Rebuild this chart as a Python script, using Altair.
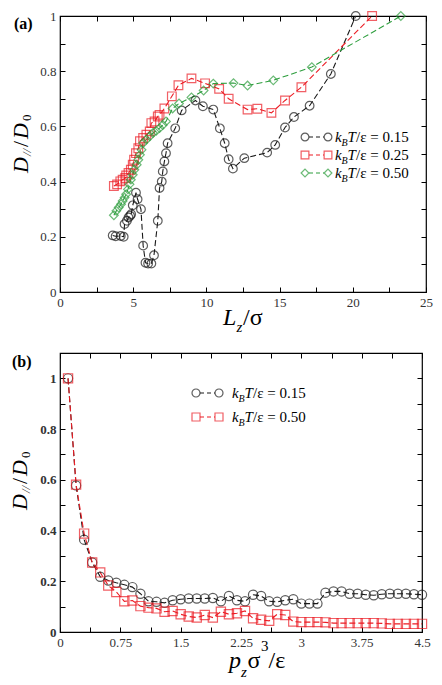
import altair as alt
import pandas as pd

SERIF = "Liberation Serif"

# ---------------- Panel (a) data: D///D0 vs Lz/sigma ----------------
a_names = ["0.15", "0.25", "0.50"]
a_colors = ["#1a1a1a", "#ec1c24", "#2e9e3e"]
a_shapes = ["circle", "square", "diamond"]

a_black_x = [3.6, 3.8, 4.15, 4.35, 4.41, 4.57, 4.68, 4.79, 4.86, 4.97, 5.19, 5.3, 5.53,
             5.68, 5.84, 6.02, 6.24, 6.42, 6.68, 6.8, 6.95, 7.02, 7.13, 7.24, 7.35, 7.87,
             8.31, 9.25, 9.76, 10.47, 10.92, 11.25, 11.52, 11.81, 12.59, 14.15, 14.7,
             15.37, 15.98, 17.05, 18.5, 20.2]
a_black_y = [0.205, 0.202, 0.203, 0.200, 0.246, 0.258, 0.27, 0.276, 0.282, 0.314, 0.36,
             0.336, 0.30, 0.168, 0.106, 0.103, 0.103, 0.133, 0.258, 0.377, 0.40, 0.437,
             0.473, 0.503, 0.539, 0.593, 0.658, 0.694, 0.673, 0.661, 0.593, 0.539, 0.481,
             0.447, 0.485, 0.505, 0.533, 0.596, 0.634, 0.675, 0.79, 1.0]

a_red_x = [3.68, 3.9, 4.12, 4.28, 4.46, 4.52, 4.68, 4.84, 4.97, 5.06, 5.19, 5.35, 5.46,
           5.68, 5.9, 6.13, 6.24, 6.46, 6.68, 6.8, 7.13, 7.64, 8.09, 8.98, 9.91, 10.87,
           11.52, 12.81, 13.48, 14.44, 15.37, 16.49, 21.32]
a_red_y = [0.384, 0.39, 0.401, 0.407, 0.413, 0.422, 0.431, 0.443, 0.461, 0.479, 0.503,
           0.521, 0.546, 0.558, 0.57, 0.582, 0.612, 0.618, 0.636, 0.642, 0.665, 0.709,
           0.749, 0.774, 0.756, 0.736, 0.70, 0.661, 0.664, 0.649, 0.694, 0.742, 1.0]

a_green_x = [3.68, 3.85, 4.01, 4.17, 4.28, 4.41, 4.52, 4.64, 4.75, 4.84, 4.97, 5.08, 5.24,
             5.35, 5.46, 5.57, 5.68, 5.9, 6.13, 6.35, 6.57, 6.8, 7.02, 7.24, 7.69, 8.13,
             8.98, 9.81, 10.47, 11.85, 12.81, 14.57, 17.2, 23.28]
a_green_y = [0.278, 0.294, 0.306, 0.318, 0.33, 0.342, 0.354, 0.372, 0.39, 0.407, 0.425,
             0.443, 0.461, 0.479, 0.497, 0.515, 0.54, 0.552, 0.564, 0.576, 0.584, 0.594,
             0.605, 0.618, 0.665, 0.683, 0.705, 0.73, 0.755, 0.757, 0.748, 0.767, 0.815, 1.0]

a_xticks = [0, 2.5, 5, 7.5, 10, 12.5, 15, 17.5, 20, 22.5, 25]
a_yticks = [0, 0.1, 0.2, 0.3, 0.4, 0.5, 0.6, 0.7, 0.8, 0.9, 1.0]

# ---------------- Panel (b) data: D///D0 vs pz sigma^3/eps ----------------
b_names = ["0.15", "0.50"]
b_colors = ["#1a1a1a", "#ec1c24"]
b_shapes = ["circle", "square"]

b_x = [0.1, 0.2, 0.3, 0.4, 0.5, 0.6, 0.7, 0.8, 0.9, 1.0, 1.1, 1.2, 1.3, 1.4, 1.5, 1.6,
       1.7, 1.8, 1.9, 2.0, 2.1, 2.2, 2.3, 2.4, 2.5, 2.6, 2.7, 2.8, 2.9, 3.0, 3.1, 3.2,
       3.3, 3.4, 3.5, 3.6, 3.7, 3.8, 3.9, 4.0, 4.1, 4.2, 4.3, 4.4, 4.5]
b_black_y = [1.0, 0.578, 0.364, 0.274, 0.218, 0.203, 0.194, 0.186, 0.177, 0.151,
             0.121, 0.119, 0.115, 0.125, 0.129, 0.132, 0.132, 0.132, 0.134, 0.121,
             0.142, 0.125, 0.121, 0.147, 0.142, 0.121, 0.119, 0.125, 0.129, 0.112,
             0.112, 0.112, 0.155, 0.160, 0.160, 0.151, 0.151, 0.147, 0.145, 0.149,
             0.151, 0.151, 0.151, 0.149, 0.147]
b_red_y = [1.0, 0.581, 0.388, 0.274, 0.235, 0.183, 0.158, 0.121, 0.124, 0.102,
           0.096, 0.093, 0.080, 0.083, 0.070, 0.061, 0.057, 0.067, 0.057, 0.080,
           0.070, 0.074, 0.083, 0.054, 0.048, 0.044, 0.070, 0.067, 0.041, 0.039,
           0.039, 0.039, 0.038, 0.035, 0.035, 0.035, 0.035, 0.035, 0.035, 0.034,
           0.032, 0.032, 0.032, 0.032, 0.032]

b_xticks = [0, 0.375, 0.75, 1.125, 1.5, 1.875, 2.25, 2.625, 3, 3.375, 3.75, 4.125, 4.5]
b_yticks = [0, 0.1, 0.2, 0.3, 0.4, 0.5, 0.6, 0.7, 0.8, 0.9, 1.0, 1.1]

# ---------------- layout constants ----------------
WA, HA = 366, 276
WB, HB = 362, 279
TICK = 5

one = pd.DataFrame({"k": [0]})


def frame(xs, ys, name):
    return pd.DataFrame({"x": xs, "y": ys, "s": name})


def txt(s, x, y, size, italic=False, bold=False, angle=0, color="black"):
    return alt.Chart(one).mark_text(
        text=s, font=SERIF, fontSize=size, align="left", baseline="alphabetic",
        fontStyle="italic" if italic else "normal",
        fontWeight="bold" if bold else "normal", angle=angle, color=color,
    ).encode(x=alt.value(x), y=alt.value(y))


def main_axis(values, expr, orient, bold=False):
    return alt.Axis(values=values, labelExpr=expr, orient=orient, tickSize=TICK,
                    offset=-TICK, domain=False, grid=False, title=None, minExtent=0,
                    tickColor="black", tickWidth=1, labelFont=SERIF, labelFontSize=13,
                    labelColor="#333", labelPadding=4, labelFlush=False,
                    labelOverlap=False, labelFontWeight="bold" if bold else "normal")


def mirror_axis(values, orient):
    return alt.Axis(values=values, orient=orient, labels=False, tickSize=TICK,
                    offset=-TICK, domain=False, grid=False, title=None, minExtent=0,
                    tickColor="black", tickWidth=1)


EVEN_TENTH = "abs(round(datum.value*10)) % 2 == 0 ? format(datum.value, '~g') : ''"


def panel(df, names, colors, shapes, xdom, ydom, xticks, yticks, xexpr, msize, ybold):
    sx = alt.Scale(domain=xdom, nice=False, zero=False)
    sy = alt.Scale(domain=ydom, nice=False, zero=False)
    col = alt.Color("s:N", scale=alt.Scale(domain=names, range=colors), legend=None)
    shp = alt.Shape("s:N", scale=alt.Scale(domain=names, range=shapes), legend=None)
    lines = alt.Chart(df).mark_line(strokeDash=[6, 3], strokeWidth=1.1).encode(
        x=alt.X("x:Q", scale=sx, axis=main_axis(xticks, xexpr, "bottom")),
        y=alt.Y("y:Q", scale=sy, axis=main_axis(yticks, EVEN_TENTH, "left", ybold)),
        color=col,
    )
    pts = alt.Chart(df).mark_point(filled=False, size=msize, strokeWidth=1.2).encode(
        x=alt.X("x:Q", scale=sx, axis=None),
        y=alt.Y("y:Q", scale=sy, axis=None),
        color=col, shape=shp,
    )
    mirror = alt.Chart(df).mark_point(opacity=0).encode(
        x=alt.X("x:Q", scale=sx, axis=mirror_axis(xticks, "top")),
        y=alt.Y("y:Q", scale=sy, axis=mirror_axis(yticks, "right")),
    )
    return [lines, pts, mirror]


def legend_rows(rows, xl, xr, xt, colors, shapes, names, msize):
    out = []
    for ry, c, s, n in zip(rows, colors, shapes, names):
        out.append(alt.Chart(one).mark_rule(color=c, strokeDash=[4, 3], strokeWidth=1.1)
                   .encode(x=alt.value(xl + 4), x2=alt.value(xr - 4), y=alt.value(ry)))
        for xm in (xl, xr):
            out.append(alt.Chart(one).mark_point(filled=False, strokeWidth=1.2)
                       .encode(x=alt.value(xm), y=alt.value(ry), shape=alt.value(s),
                               color=alt.value(c), size=alt.value(msize)))
        out += [
            txt("k", xt, ry + 5, 15, italic=True),
            txt("B", xt + 6.5, ry + 8.5, 10, italic=True),
            txt("T", xt + 12.5, ry + 5, 15, italic=True),
            txt("/ε = " + n, xt + 21, ry + 5, 15),
        ]
    return out


def ytitle(xb):
    # rotated title D_// / D_0, read bottom to top
    return [
        txt("D", xb, 157, 22, italic=True, angle=270),
        txt("//", xb + 3, 140, 13, italic=True, angle=270),
        txt("/", xb, 131, 22, angle=270),
        txt("D", xb, 123, 22, italic=True, angle=270),
        txt("0", xb + 3, 105, 13, angle=270),
    ]


# ---------------- build panel (a) ----------------
df_a = pd.concat([frame(a_black_x, a_black_y, "0.15"),
                  frame(a_red_x, a_red_y, "0.25"),
                  frame(a_green_x, a_green_y, "0.50")])
layers_a = panel(df_a, a_names, a_colors, a_shapes, [0, 25], [0, 1], a_xticks, a_yticks,
                 "datum.value % 5 == 0 ? format(datum.value, '~g') : ''", 75, False)
ac = WA / 2
layers_a += [
    txt("(a)", -46, 13, 16, bold=True),
    txt("L", ac - 20, HA + 33, 24, italic=True),
    txt("z", ac - 6.5, HA + 40, 15, italic=True),
    txt("/σ", ac, HA + 33, 24),
]
layers_a += ytitle(-32)
layers_a += legend_rows([121, 139, 157], 245, 268, 275, a_colors, a_shapes, a_names, 60)
panel_a = alt.layer(*layers_a).resolve_axis(x="independent", y="independent").properties(
    width=WA, height=HA)

# ---------------- build panel (b) ----------------
df_b = pd.concat([frame(b_x, b_black_y, "0.15"), frame(b_x, b_red_y, "0.50")])
layers_b = panel(df_b, b_names, b_colors, b_shapes, [0, 4.5], [0, 1.1], b_xticks, b_yticks,
                 "round(datum.value/0.375) % 2 == 0 ? format(datum.value, '~g') : ''",
                 85, True)
bc = WB / 2
layers_b += [
    txt("(b)", -48, 14, 16, bold=True),
    txt("p", bc - 12, HB + 36, 24, italic=True),
    txt("z", bc, HB + 45, 15, italic=True),
    txt("σ", bc + 6.5, HB + 36, 24),
    txt("3", bc + 20, HB + 19, 15),
    txt("/ε", bc + 27.5, HB + 36, 24),
]
layers_b += ytitle(-33)
layers_b += legend_rows([40, 64], 136, 159, 172, b_colors, b_shapes, b_names, 64)
panel_b = alt.layer(*layers_b).resolve_axis(x="independent", y="independent").properties(
    width=WB, height=HB)

chart = alt.concat(panel_a, panel_b, columns=1, spacing=10, align="none").resolve_scale(
    color="independent", shape="independent"
).properties(
    padding={"left": 0, "top": 0, "right": 0, "bottom": 0},
    background="white",
).configure_view(stroke="black", strokeWidth=1.2)

chart.save("out.html", embed_options={"renderer": "svg", "actions": False})
